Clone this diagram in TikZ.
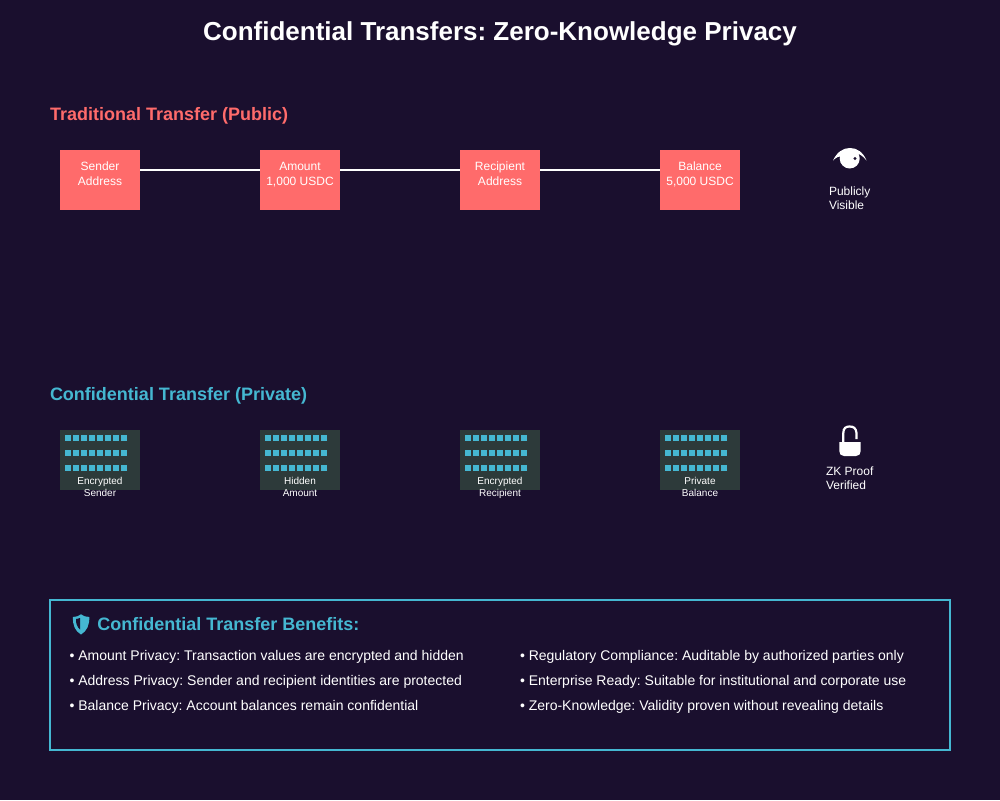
\documentclass[tikz,border=0pt]{standalone}
\usepackage{fontspec}
\setmainfont{Liberation Sans}
\frenchspacing
\definecolor{bg}{HTML}{1A0F2E}
\definecolor{redc}{HTML}{FF6B6B}
\definecolor{tealc}{HTML}{45B7D1}
\definecolor{darkc}{HTML}{2D3A3A}
\newcommand{\fs}[1]{\fontsize{#1}{#1}\selectfont}
\tikzset{
 txt/.style={inner sep=0pt,outer sep=0pt,text=white,anchor=base},
 ltxt/.style={txt,anchor=base west},
 redbox/.style={draw=none,fill=redc,minimum width=80pt,minimum height=60pt,inner sep=0pt,outer sep=0pt},
 encbox/.style={draw=none,fill=darkc,minimum width=80pt,minimum height=60pt,inner sep=0pt,outer sep=0pt},
 boxtxt/.style={txt,font=\fs{12}},
 smalltxt/.style={txt,font=\fs{10}},
 bodytxt/.style={ltxt,font=\fs{14}},
 icontxt/.style={ltxt,font=\fs{12}},
 sectitle/.style={ltxt,font=\fs{18}\bfseries},
 link/.style={draw=white,line width=2pt},
 dot/.style={fill=tealc,draw=none}
}
\begin{document}
\begin{tikzpicture}[x=1pt,y=-1pt]
\path[use as bounding box,fill=bg] (0,0) rectangle (1000,800);
\node[txt,font=\fs{26}\bfseries] (title) at (500,41) {Confidential Transfers: Zero-Knowledge Privacy};
\node[sectitle,text=redc] (sec1) at (50,120) {Traditional Transfer (Public)};
\node[sectitle,text=tealc] (sec2) at (50,400) {Confidential Transfer (Private)};
% public row
\node[redbox] (a) at (100,180) {};
\node[redbox] (b) at (300,180) {};
\node[redbox] (c) at (500,180) {};
\node[redbox] (d) at (700,180) {};
\draw[link] ([yshift=10pt]a.east) -- ([yshift=10pt]b.west);
\draw[link] ([yshift=10pt]b.east) -- ([yshift=10pt]c.west);
\draw[link] ([yshift=10pt]c.east) -- ([yshift=10pt]d.west);
\node[boxtxt] (a1) at (100,170) {Sender};
\node[boxtxt] (a2) at (100,185) {Address};
\node[boxtxt] (b1) at (300,170) {Amount};
\node[boxtxt] (b2) at (300,185) {1,000 USDC};
\node[boxtxt] (c1) at (500,170) {Recipient};
\node[boxtxt] (c2) at (500,185) {Address};
\node[boxtxt] (d1) at (700,170) {Balance};
\node[boxtxt] (d2) at (700,185) {5,000 USDC};
% eye icon
\fill[white] (833,160.5) .. controls (837,152) and (843,148) .. (850,148) .. controls (857,148) and (863,152) .. (866.5,160.5) .. controls (863,156) and (860,154.5) .. (857.5,153.5) -- (842,156) .. controls (839,156) and (836,157.5) .. (833,160.5) -- cycle;
\fill[white] (849.7,158.5) circle (10);
\fill[bg] (855,158.5) circle (1.6);
\node[icontxt] (e1) at (829,195) {Publicly};
\node[icontxt] (e2) at (829,209) {Visible};
% private row
\node[encbox] (p) at (100,460) {};
\node[encbox] (q) at (300,460) {};
\node[encbox] (r) at (500,460) {};
\node[encbox] (s) at (700,460) {};
\foreach \bx in {60,260,460,660}{
 \foreach \i in {0,...,7}{
  \foreach \yy in {435,450,465}{
   \fill[dot] ({\bx+5+8*\i},\yy) rectangle ++(6,6);
  }
 }
}
\node[smalltxt] (p1) at (100,484.6) {Encrypted};
\node[smalltxt] (p2) at (100,496.6) {Sender};
\node[smalltxt] (q1) at (300,484.6) {Hidden};
\node[smalltxt] (q2) at (300,496.6) {Amount};
\node[smalltxt] (r1) at (500,484.6) {Encrypted};
\node[smalltxt] (r2) at (500,496.6) {Recipient};
\node[smalltxt] (s1) at (700,484.6) {Private};
\node[smalltxt] (s2) at (700,496.6) {Balance};
% lock icon
\draw[white,line width=2.2pt] (843.3,443) -- (843.3,433) .. controls (843.3,428) and (846,426.5) .. (849.5,426.5) .. controls (853.5,426.5) and (856,428) .. (856.5,433) -- (856.5,439);
\fill[white] (839.3,442) -- (860.7,442) -- (860.7,451) .. controls (860.7,454) and (859,456) .. (856,456) -- (844,456) .. controls (841,456) and (839.3,454) .. (839.3,451) -- cycle;
\node[icontxt] (l1) at (826,475) {ZK Proof};
\node[icontxt] (l2) at (826,489) {Verified};
% benefits
\node[draw=tealc,line width=2pt,fill=bg,minimum width=900pt,minimum height=150pt,inner sep=0pt,outer sep=0pt] (panel) at (500,675) {};
\fill[tealc] (73,617) .. controls (76,617) and (79,616) .. (81,614.3) .. controls (83,616) and (86,617) .. (89.3,617) .. controls (89.5,625) and (87,631) .. (81,634.5) .. controls (75,631) and (72.5,625) .. (73,617) -- cycle;
\fill[bg] (76,619) .. controls (77,619) and (78.5,618.5) .. (80,618) -- (80,629.5) .. controls (77,627) and (75.8,623) .. (76,619) -- cycle;
\node[sectitle,text=tealc] (h) at (97.4,630) {Confidential Transfer Benefits:};
\node[bodytxt] (l1a) at (69.5,660) {• Amount Privacy: Transaction values are encrypted and hidden};
\node[bodytxt] (l2a) at (69.5,685) {• Address Privacy: Sender and recipient identities are protected};
\node[bodytxt] (l3a) at (69.5,710) {• Balance Privacy: Account balances remain confidential};
\node[bodytxt] (r1a) at (520,660) {• Regulatory Compliance: Auditable by authorized parties only};
\node[bodytxt] (r2a) at (520,685) {• Enterprise Ready: Suitable for institutional and corporate use};
\node[bodytxt] (r3a) at (520,710) {• Zero-Knowledge: Validity proven without revealing details};
\end{tikzpicture}
\end{document}
